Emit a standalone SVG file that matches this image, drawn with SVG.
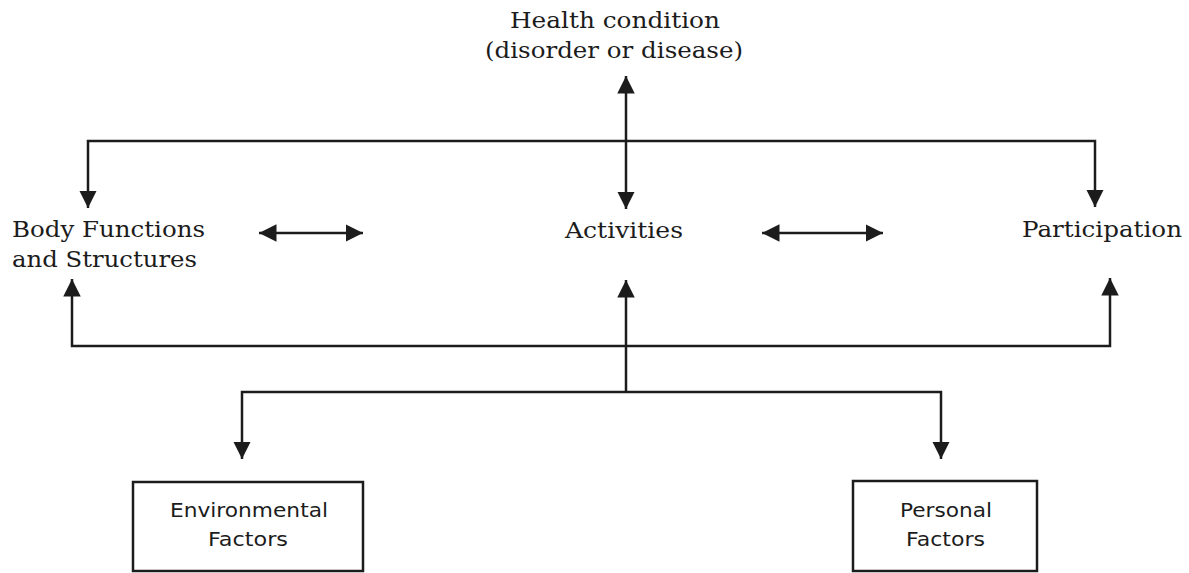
<svg xmlns="http://www.w3.org/2000/svg" width="1189" height="573" viewBox="0 0 1189 573">
<style>
.lbl{font-family:"DejaVu Serif","Liberation Serif",serif;font-size:22px;fill:#1c1c1c}
.box{fill:#fff;stroke:#1c1c1c;stroke-width:2.5}
.btx{font-family:"DejaVu Sans","Liberation Sans",sans-serif;font-size:20px;fill:#1c1c1c;text-anchor:middle}
.ln{fill:none;stroke:#1c1c1c;stroke-width:2.5}
</style>
<defs>
<marker id="ah" viewBox="0 0 10 10" refX="10" refY="5" markerWidth="7" markerHeight="7" markerUnits="strokeWidth" orient="auto-start-reverse">
<path d="M0,0 L10,5 L0,10 z" fill="#1c1c1c"/>
</marker>
</defs>
<rect width="1189" height="573" fill="#fff"/>
<g id="health">
<text class="lbl" x="510" y="28" textLength="210" lengthAdjust="spacingAndGlyphs">Health condition</text>
<text class="lbl" x="485" y="58" textLength="258" lengthAdjust="spacingAndGlyphs">(disorder or disease)</text>
</g>
<g id="body">
<text class="lbl" x="12" y="237" textLength="193" lengthAdjust="spacingAndGlyphs">Body Functions</text>
<text class="lbl" x="12" y="267" textLength="185" lengthAdjust="spacingAndGlyphs">and Structures</text>
</g>
<g id="activities">
<text class="lbl" x="565" y="238" textLength="118" lengthAdjust="spacingAndGlyphs">Activities</text>
</g>
<g id="participation">
<text class="lbl" x="1022" y="237" textLength="160" lengthAdjust="spacingAndGlyphs">Participation</text>
</g>
<g id="environmental">
<rect class="box" x="133" y="482" width="230" height="89"/>
<text class="btx" x="249" y="517" textLength="158" lengthAdjust="spacingAndGlyphs">Environmental</text>
<text class="btx" x="248" y="546" textLength="80" lengthAdjust="spacingAndGlyphs">Factors</text>
</g>
<g id="personal">
<rect class="box" x="853" y="481" width="184" height="90"/>
<text class="btx" x="946" y="517" textLength="92" lengthAdjust="spacingAndGlyphs">Personal</text>
<text class="btx" x="945.5" y="546" textLength="79" lengthAdjust="spacingAndGlyphs">Factors</text>
</g>
<g id="connectors">
<path class="ln" d="M88,208 V141 H1095 V207" marker-start="url(#ah)" marker-end="url(#ah)"/>
<path class="ln" d="M626,76 V209" marker-start="url(#ah)" marker-end="url(#ah)"/>
<path class="ln" d="M259,233 H363" marker-start="url(#ah)" marker-end="url(#ah)"/>
<path class="ln" d="M762,233 H883" marker-start="url(#ah)" marker-end="url(#ah)"/>
<path class="ln" d="M72,279 V346 H1110 V278" marker-start="url(#ah)" marker-end="url(#ah)"/>
<path class="ln" d="M626,392 V280" marker-end="url(#ah)"/>
<path class="ln" d="M242,459 V392 H941 V459" marker-start="url(#ah)" marker-end="url(#ah)"/>
</g>
</svg>
